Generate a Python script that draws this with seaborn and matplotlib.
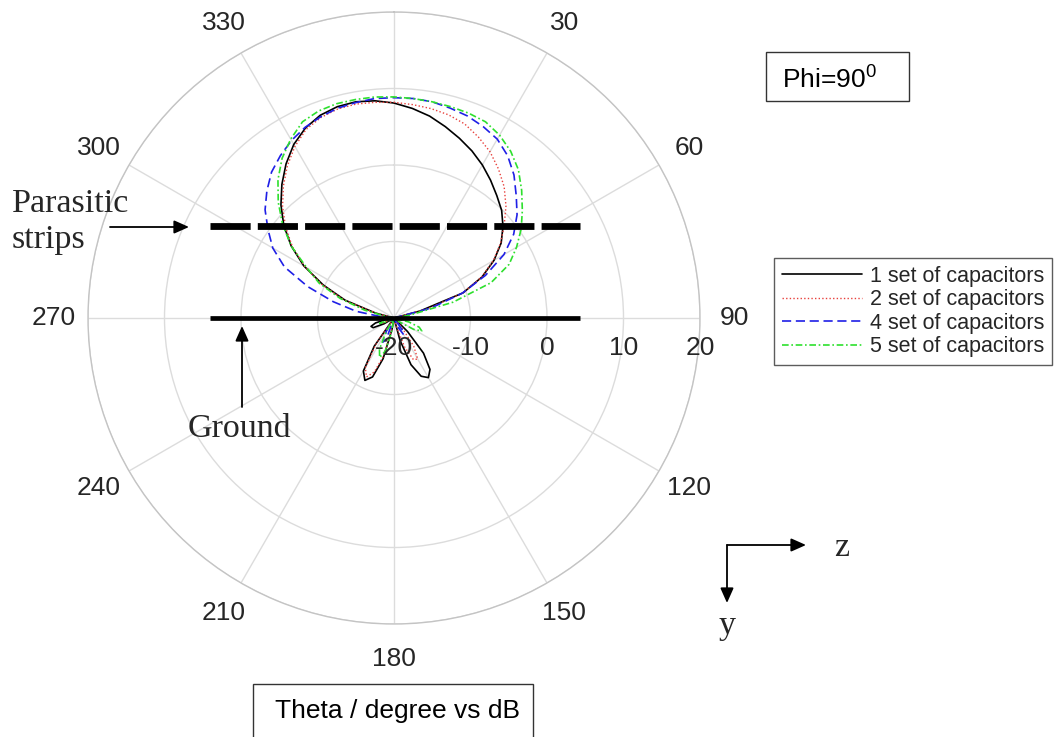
import numpy as np
import matplotlib
matplotlib.use("Agg")
import matplotlib.pyplot as plt
import seaborn as sns
from matplotlib.lines import Line2D
from matplotlib.patches import Rectangle, FancyArrowPatch

# ---------------------------------------------------------------- data
# Sampling angles (degrees, clockwise from top), -90 .. 270
theta_deg = np.arange(-90, 271, 5)

# Gain in dB for each capacitor configuration
gain_1set = [
    -20, -20, -20, -17.5, -13.2, -9.8, -6.4, -3.6, -1.2, 0.9, 2.8, 4.6, 6.2,
    7.4, 8.2, 8.6, 8.7, 8.5, 8.1, 7.5, 6.8, 5.9, 5.0, 4.1, 3.1, 2.0, 0.9,
    -0.1, -1.4, -2.9, -4.9, -7.3, -10.4, -16.5, -20, -20, -20,
    -20, -20, -20, -20, -20, -20, -20, -20, -17.5, -14, -11.8, -11, -11.6,
    -13.5, -17, -20, -20, -20, -20, -18.5, -14.5, -11.8, -11, -12, -15.5, -20,
    -20, -20, -20, -18.5, -17, -16.8, -17.5, -19, -20, -20,
]
gain_2set = [
    -20, -20, -20, -17.5, -13, -9.6, -6.5, -3.8, -1.5, 0.6, 2.5, 4.3, 5.9,
    7.2, 7.9, 8.3, 8.4, 8.3, 8.2, 8.0, 7.8, 7.5, 7.0, 6.1, 5.1, 3.8, 2.4,
    0.7, -1.2, -3.0, -5.0, -7.4, -10.5, -15.5, -20, -20, -20,
    -20, -20, -20, -20, -20, -20, -20, -20, -20, -18.5, -15.5, -13.8, -14,
    -16, -19, -20, -20, -20, -20, -19, -15, -12.5, -11.5, -12.5, -16, -20,
    -20, -20, -20, -20, -18.5, -18.5, -20, -20, -20, -20,
]
gain_4set = [
    -20, -18.5, -15, -11.8, -8, -4.2, -1.7, 0.1, 2.0, 3.5, 4.9, 5.9, 6.8,
    7.5, 8.0, 8.4, 8.6, 8.8, 8.8, 8.8, 8.7, 8.4, 8.1, 7.6, 7.0, 5.9, 4.4,
    2.6, 1.0, -0.9, -3.4, -6.8, -10.5, -15, -20, -20, -20,
    -20, -20, -20, -20, -20, -20, -20, -20, -20, -20, -18, -17.5, -18.5,
    -20, -20, -20, -20, -20, -20, -20, -20, -17, -16.5, -18, -20, -20,
    -20, -20, -20, -20, -20, -20, -20, -20, -20, -20,
]
gain_5set = [
    -20, -20, -19, -16, -12.5, -9.2, -6.8, -3.6, -1.0, 1.4, 3.6, 5.5, 7.0,
    8.3, 8.8, 9.0, 9.0, 9.0, 8.9, 8.8, 8.7, 8.6, 8.5, 8.3, 7.6, 6.6, 5.3,
    3.6, 1.9, 0.3, -1.5, -3.4, -6.5, -12, -18, -20, -20,
    -20, -20, -18, -16.5, -16, -17, -19, -20, -20, -20, -20, -20, -20,
    -20, -20, -20, -20, -20, -20, -18, -15.5, -14.5, -15.5, -18, -20, -20,
    -20, -20, -20, -20, -18.5, -18, -20, -20, -20, -20,
]

series_labels = ["1 set of capacitors", "2 set of capacitors",
                 "4 set of capacitors", "5 set of capacitors"]
r_ticks = [-20, -10, 0, 10, 20]
theta_ticks = list(range(0, 360, 30))
theta_ticklabels = [""] + [str(a) for a in theta_ticks[1:]]

# ---------------------------------------------------------------- style
sns.set_theme(style="white")
plt.rcParams["font.family"] = ["Liberation Sans", "DejaVu Sans"]
plt.rcParams["mathtext.fontset"] = "custom"
plt.rcParams["mathtext.rm"] = "Liberation Sans"
plt.rcParams["mathtext.it"] = "Liberation Sans:italic"

W, H = 1057, 737
fig = plt.figure(figsize=(W / 100, H / 100), dpi=100)
fig.patch.set_facecolor("white")


def fx(x):
    return x / W


def fy(y):
    return 1 - y / H


# polar axes: centre (394, 318) px, radius 306 px
cx, cy, rad = 394, 318, 306
ax = fig.add_axes([fx(cx - rad), fy(cy + rad), 2 * rad / W, 2 * rad / H],
                  projection="polar")
ax.set_theta_zero_location("N")
ax.set_theta_direction(-1)
ax.set_facecolor("white")

styles = [
    dict(color="black", lw=1.2, ls="-"),
    dict(color="#e8403c", lw=1.0, ls=(0, (1, 1.6))),
    dict(color="#1f1fe6", lw=1.2, ls=(0, (5.5, 2.8))),
    dict(color="#2ee02e", lw=1.2, ls=(0, (4, 1.6, 1, 1.6))),
]
theta_rad = np.deg2rad(theta_deg)
handles = []
for vals, st, lab in zip([gain_1set, gain_2set, gain_4set, gain_5set],
                         styles, series_labels):
    n_before = len(ax.lines)
    sns.lineplot(x=theta_rad, y=np.asarray(vals, float), ax=ax, sort=False,
                 estimator=None, color=st["color"], linewidth=st["lw"],
                 legend=False)
    line = ax.lines[n_before]
    line.set_linestyle(st["ls"])
    handles.append(line)

if ax.get_legend() is not None:
    ax.get_legend().remove()

ax.set_xlabel("")
ax.set_ylabel("")
ax.set_rlim(-20, 20)
ax.set_rticks(r_ticks)
ax.set_yticklabels([])
ax.set_thetagrids(theta_ticks, labels=theta_ticklabels)
ax.tick_params(axis="x", pad=12, labelsize=19, labelcolor="#262626")
ax.grid(True, color="#dcdcdc", lw=1.0)
ax.spines["polar"].set_color("#c4c4c4")
ax.spines["polar"].set_linewidth(1.0)

# radial labels sit just below the 90-degree spoke
for r in r_ticks:
    ax.annotate(str(r), xy=(np.pi / 2, r), xytext=(0, -13),
                textcoords="offset points", ha="center", va="top",
                fontsize=19, color="#262626", annotation_clip=False)

# legend
leg = fig.legend(handles=handles, labels=series_labels, loc="upper left",
                 bbox_to_anchor=(fx(774), fy(258)), fontsize=15.5,
                 frameon=True, fancybox=False, edgecolor="#333333",
                 handlelength=3.75, handletextpad=0.35, labelspacing=0.12,
                 borderpad=0.35, borderaxespad=0)
leg.get_frame().set_linewidth(1.0)

# text boxes
fig.add_artist(Rectangle((fx(766), fy(101)), fx(909) - fx(766),
                         fy(52) - fy(101), transform=fig.transFigure,
                         fill=False, ec="#333333", lw=1.0))
fig.text(fx(782), fy(80), r"Phi=90$^{0}$", fontsize=19, ha="left",
         va="center", color="black")

fig.add_artist(Rectangle((fx(253), fy(760)), fx(533) - fx(253),
                         fy(684) - fy(760), transform=fig.transFigure,
                         fill=False, ec="#333333", lw=1.0))
fig.text(fx(275), fy(711), "Theta / degree vs dB", fontsize=19, ha="left",
         va="center", color="black")

# structure overlay: parasitic strips and ground plane
fig.add_artist(Line2D([fx(210), fx(580)], [fy(226), fy(226)],
                      transform=fig.transFigure, color="black", lw=4.9,
                      ls=(0, (5.9, 1.05)), solid_capstyle="butt",
                      dash_capstyle="butt", zorder=10))
fig.add_artist(Line2D([fx(210), fx(580)], [fy(318), fy(318)],
                      transform=fig.transFigure, color="black", lw=3.4,
                      solid_capstyle="butt", zorder=10))

serif = ["Liberation Serif", "DejaVu Serif"]
fig.text(fx(12), fy(212), "Parasitic", fontsize=24.5, family=serif,
         ha="left", va="baseline")
fig.text(fx(12), fy(248), "strips", fontsize=24.5, family=serif,
         ha="left", va="baseline")
fig.text(fx(188), fy(437), "Ground", fontsize=24.5, family=serif,
         ha="left", va="baseline")

arrow_kw = dict(arrowstyle="-|>,head_length=0.9,head_width=0.4",
                color="black", lw=1.3, mutation_scale=10,
                shrinkA=0, shrinkB=0)


def arrow(x0, y0, x1, y1):
    fig.add_artist(FancyArrowPatch((fx(x0), fy(y0)), (fx(x1), fy(y1)),
                                   transform=fig.transFigure, **arrow_kw))


arrow(110, 227, 189, 227)
arrow(242, 407, 242, 326)

# coordinate axes marker
arrow(727, 545, 806, 545)
arrow(727, 545, 727, 603)
fig.text(fx(842), fy(548), "z", fontsize=24.5, family=serif,
         ha="center", va="center")
fig.text(fx(727), fy(626), "y", fontsize=24.5, family=serif,
         ha="center", va="center")

fig.savefig("out.png", dpi=100, facecolor="white")
